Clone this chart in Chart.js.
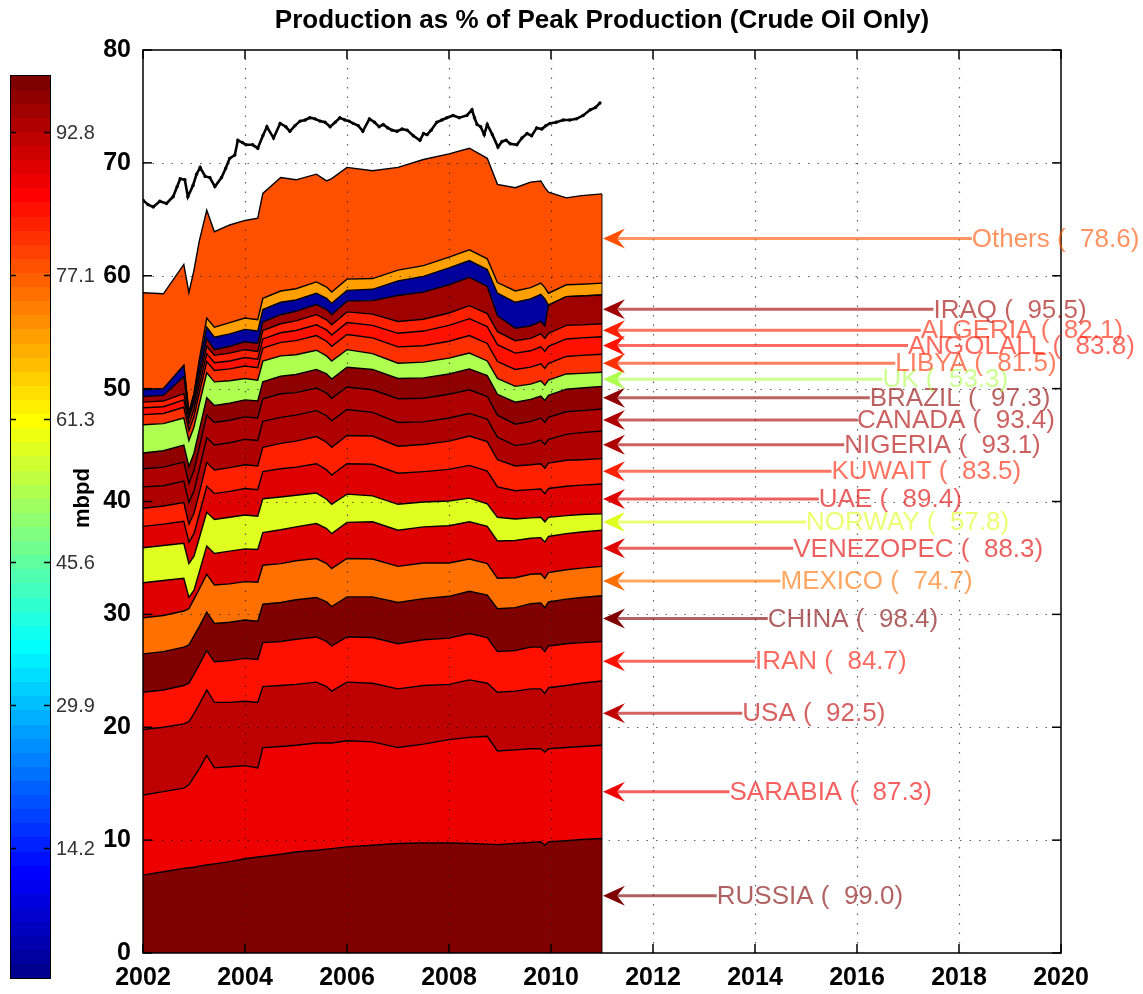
<!DOCTYPE html>
<html>
<head>
<meta charset="utf-8">
<script src="https://cdn.jsdelivr.net/npm/chart.js@4.4.1/dist/chart.umd.min.js"></script>
<style>
  html, body { margin: 0; padding: 0; background: #fff; }
  #wrap { width: 1143px; height: 994px; }
</style>
</head>
<body>
<div id="wrap"><canvas id="c" width="1143" height="994"></canvas></div>
<script>
// ---- sample dates (decimal years) shared by every stacked layer ----
const years = [2002.0, 2002.4, 2002.8, 2002.9, 2003.0, 2003.1, 2003.25, 2003.4, 2003.7, 2004.0,
  2004.25, 2004.35, 2004.7, 2005.0, 2005.4, 2005.6, 2005.7, 2006.0, 2006.5, 2007.0,
  2007.5, 2008.0, 2008.4, 2008.75, 2008.95, 2009.3, 2009.6, 2009.8, 2009.88, 2009.95,
  2010.3, 2010.6, 2011.0];

// ---- crude production per producer, mbpd (bottom of the stack first) ----
const russia      = [6.9, 7.2, 7.5, 7.55, 7.6, 7.7, 7.8, 7.9, 8.1, 8.35, 8.5, 8.55, 8.75, 8.95, 9.1, 9.2, 9.25, 9.4, 9.55, 9.7, 9.75, 9.75, 9.7, 9.65, 9.6, 9.7, 9.8, 9.85, 9.55, 9.85, 9.95, 10.05, 10.15];
const saudiArabia = [7.1, 7.1, 7.1, 7.35, 8.0, 8.6, 9.7, 8.5, 8.4, 8.25, 7.9, 9.65, 9.55, 9.45, 9.5, 9.4, 9.35, 9.4, 9.15, 8.5, 8.75, 9.15, 9.4, 9.55, 8.3, 8.3, 8.3, 8.25, 8.25, 8.25, 8.25, 8.25, 8.25];
const usa         = [5.8, 5.7, 5.7, 5.6, 5.6, 5.7, 5.8, 5.8, 5.7, 5.7, 5.8, 5.4, 5.4, 5.4, 5.4, 5.0, 4.6, 5.2, 5.2, 5.2, 5.2, 4.9, 5.1, 4.7, 5.2, 5.2, 5.3, 5.3, 5.2, 5.4, 5.5, 5.6, 5.7];
const iran        = [3.3, 3.3, 3.4, 3.4, 3.5, 3.5, 3.5, 3.6, 3.7, 3.8, 3.8, 3.9, 3.9, 4.0, 4.0, 4.0, 4.0, 4.0, 4.05, 4.0, 4.05, 4.1, 4.1, 4.05, 3.6, 3.6, 3.7, 3.7, 3.7, 3.7, 3.7, 3.6, 3.5];
const china       = [3.4, 3.4, 3.4, 3.4, 3.4, 3.4, 3.4, 3.4, 3.4, 3.4, 3.4, 3.4, 3.45, 3.5, 3.5, 3.5, 3.5, 3.55, 3.6, 3.65, 3.65, 3.7, 3.75, 3.75, 3.8, 3.8, 3.85, 3.9, 3.9, 3.9, 3.95, 4.0, 4.05];
const mexico      = [3.2, 3.2, 3.2, 3.2, 3.25, 3.3, 3.35, 3.4, 3.4, 3.4, 3.45, 3.45, 3.45, 3.45, 3.45, 3.4, 3.35, 3.4, 3.35, 3.2, 3.15, 2.95, 2.85, 2.8, 2.7, 2.65, 2.6, 2.6, 2.6, 2.6, 2.6, 2.6, 2.6];
const venezuela   = [3.1, 3.1, 2.9, 1.0, 0.8, 1.5, 2.5, 2.8, 2.9, 2.9, 2.9, 2.9, 3.0, 3.0, 3.1, 3.1, 3.1, 3.2, 3.3, 3.2, 3.2, 3.3, 3.3, 3.3, 3.3, 3.3, 3.2, 3.2, 3.2, 3.2, 3.2, 3.2, 3.2];
const norway      = [3.1, 3.1, 3.1, 3.0, 3.0, 3.0, 3.0, 3.0, 3.0, 3.0, 2.95, 3.0, 2.9, 2.8, 2.7, 2.6, 2.6, 2.5, 2.3, 2.3, 2.2, 2.2, 2.1, 2.0, 2.1, 1.9, 1.8, 1.8, 1.8, 1.7, 1.6, 1.55, 1.45];
const uae         = [1.9, 1.9, 1.95, 1.9, 2.0, 2.1, 2.3, 2.3, 2.3, 2.35, 2.35, 2.4, 2.5, 2.5, 2.6, 2.6, 2.6, 2.7, 2.8, 2.75, 2.7, 2.8, 2.9, 2.9, 2.7, 2.5, 2.5, 2.5, 2.5, 2.55, 2.6, 2.6, 2.65];
const kuwait      = [1.6, 1.6, 1.65, 1.6, 1.8, 1.9, 2.1, 2.1, 2.1, 2.1, 2.1, 2.15, 2.25, 2.3, 2.4, 2.45, 2.45, 2.5, 2.5, 2.4, 2.4, 2.5, 2.6, 2.6, 2.4, 2.2, 2.2, 2.25, 2.25, 2.25, 2.3, 2.25, 2.25];
const nigeria     = [1.9, 1.8, 1.9, 1.9, 2.0, 2.1, 2.2, 2.2, 2.2, 2.25, 2.25, 2.3, 2.3, 2.3, 2.3, 2.35, 2.35, 2.3, 2.1, 2.1, 2.0, 2.05, 2.0, 2.0, 2.0, 1.8, 1.9, 2.1, 2.1, 2.1, 2.3, 2.4, 2.45];
const canada      = [1.6, 1.65, 1.7, 1.7, 1.8, 1.9, 2.0, 2.0, 2.0, 2.0, 2.0, 2.0, 2.1, 2.0, 2.0, 2.0, 2.0, 2.0, 2.0, 2.1, 2.1, 2.1, 2.1, 2.0, 1.95, 1.9, 1.95, 1.95, 1.95, 1.95, 2.0, 1.95, 1.95];
const brazil      = [1.4, 1.45, 1.5, 1.5, 1.55, 1.55, 1.55, 1.5, 1.5, 1.5, 1.5, 1.5, 1.55, 1.6, 1.65, 1.7, 1.7, 1.75, 1.8, 1.8, 1.8, 1.8, 1.85, 1.85, 1.85, 1.95, 1.95, 1.95, 1.95, 1.95, 2.0, 2.0, 2.0];
const uk          = [2.5, 2.4, 2.4, 2.3, 2.3, 2.3, 2.2, 2.1, 2.0, 1.9, 1.85, 1.85, 1.8, 1.75, 1.7, 1.6, 1.6, 1.55, 1.4, 1.35, 1.4, 1.4, 1.4, 1.3, 1.4, 1.4, 1.35, 1.35, 1.35, 1.35, 1.35, 1.3, 1.25];
const libya       = [0.9, 0.9, 0.95, 0.9, 0.95, 1.0, 1.0, 1.0, 1.05, 1.1, 1.1, 1.15, 1.2, 1.25, 1.3, 1.3, 1.3, 1.35, 1.4, 1.45, 1.45, 1.5, 1.55, 1.55, 1.5, 1.5, 1.5, 1.5, 1.5, 1.5, 1.55, 1.6, 1.6];
const angola      = [0.6, 0.6, 0.65, 0.6, 0.65, 0.7, 0.7, 0.7, 0.7, 0.75, 0.75, 0.8, 0.85, 0.9, 0.95, 1.0, 1.0, 1.05, 1.1, 1.2, 1.3, 1.4, 1.5, 1.5, 1.5, 1.45, 1.45, 1.5, 1.5, 1.5, 1.55, 1.55, 1.55];
const algeria     = [0.5, 0.5, 0.55, 0.5, 0.55, 0.6, 0.65, 0.65, 0.7, 0.7, 0.7, 0.75, 0.8, 0.85, 0.9, 0.9, 0.9, 0.95, 1.0, 1.05, 1.05, 1.1, 1.15, 1.15, 1.15, 1.1, 1.1, 1.15, 1.15, 1.15, 1.2, 1.15, 1.15];
const iraq        = [0.5, 0.5, 1.5, 0.2, 0.3, 0.5, 0.7, 0.5, 0.6, 0.7, 0.7, 0.75, 0.8, 0.85, 0.9, 0.9, 0.9, 0.95, 1.2, 2.3, 2.4, 2.5, 2.5, 2.4, 1.4, 1.1, 1.1, 1.1, 1.1, 2.5, 2.55, 2.55, 2.55];
const extraA      = [0.6, 0.6, 1.0, 0.3, 0.5, 0.8, 1.0, 1.1, 1.1, 1.1, 1.1, 1.1, 1.1, 1.0, 1.0, 1.0, 1.0, 0.95, 1.0, 1.3, 1.4, 1.5, 1.5, 1.5, 2.0, 2.3, 2.4, 2.4, 2.4, 0, 0, 0, 0];
const extraB      = [0, 0, 0, 0, 0, 0.3, 0.8, 0.9, 1.0, 1.0, 1.0, 1.0, 1.0, 1.0, 1.0, 1.0, 1.0, 1.0, 0.95, 0.95, 0.95, 0.95, 0.95, 0.95, 0.95, 1.0, 1.0, 1.0, 1.0, 1.05, 1.05, 1.05, 1.05];
const others      = [8.6, 8.4, 8.95, 10.6, 10.95, 10.55, 9.55, 8.45, 8.65, 8.65, 9.0, 9.3, 10.05, 9.65, 9.55, 9.4, 10.05, 9.9, 9.55, 9.1, 9.4, 9.15, 9.0, 8.9, 8.7, 9.15, 9.35, 9.05, 8.85, 8.95, 7.7, 7.85, 7.9];

// layer order, names shown at the arrows, and latest production as % of peak
const layerValues = [russia, saudiArabia, usa, iran, china, mexico, venezuela, norway, uae, kuwait,
  nigeria, canada, brazil, uk, libya, angola, algeria, iraq, extraA, extraB, others];
const layerNames = ['RUSSIA', 'SARABIA', 'USA', 'IRAN', 'CHINA', 'MEXICO', 'VENEZOPEC', 'NORWAY', 'UAE', 'KUWAIT',
  'NIGERIA', 'CANADA', 'BRAZIL', 'UK', 'LIBYA', 'ANGOLALL', 'ALGERIA', 'IRAQ', '', '', 'Others'];
const pctOfPeak = [99.0, 87.3, 92.5, 84.7, 98.4, 74.7, 88.3, 57.8, 89.4, 83.5,
  93.1, 93.4, 97.3, 53.3, 81.5, 83.8, 82.1, 95.5, 2.0, 70.0, 78.6];

// ---- world total line ----
const totalYears = [2002.0, 2002.1, 2002.2, 2002.33, 2002.46, 2002.59, 2002.67, 2002.73, 2002.82, 2002.88,
  2002.98, 2003.05, 2003.12, 2003.22, 2003.31, 2003.41, 2003.54, 2003.62, 2003.7, 2003.8,
  2003.86, 2003.95, 2004.02, 2004.15, 2004.25, 2004.35, 2004.43, 2004.56, 2004.69, 2004.8,
  2004.88, 2004.98, 2005.08, 2005.18, 2005.27, 2005.37, 2005.47, 2005.57, 2005.67, 2005.77,
  2005.86, 2005.96, 2006.04, 2006.12, 2006.22, 2006.31, 2006.44, 2006.54, 2006.63, 2006.71,
  2006.8, 2006.88, 2006.98, 2007.08, 2007.18, 2007.3, 2007.43, 2007.5, 2007.57, 2007.65,
  2007.76, 2007.86, 2007.96, 2008.08, 2008.2, 2008.35, 2008.45, 2008.5, 2008.55, 2008.62,
  2008.69, 2008.75, 2008.85, 2008.96, 2009.04, 2009.12, 2009.2, 2009.33, 2009.43, 2009.53,
  2009.62, 2009.72, 2009.82, 2009.9, 2009.98, 2010.1, 2010.24, 2010.37, 2010.5, 2010.63,
  2010.77, 2010.87, 2010.96];
const totalValues = [66.7, 66.3, 66.1, 66.6, 66.4, 67.0, 67.9, 68.6, 68.5, 67.0,
  68.0, 69.0, 69.6, 68.8, 68.7, 67.9, 68.7, 69.5, 70.4, 70.7,
  72.0, 71.8, 71.6, 71.6, 71.3, 72.4, 73.2, 72.2, 73.5, 73.2,
  72.8, 73.3, 73.7, 73.8, 74.0, 73.9, 73.7, 73.6, 73.2, 73.6,
  74.0, 73.8, 73.7, 73.5, 73.3, 72.8, 73.9, 73.6, 73.2, 73.4,
  73.1, 72.9, 72.8, 73.0, 72.9, 72.4, 72.0, 72.6, 72.5, 72.9,
  73.6, 73.8, 74.0, 74.2, 74.0, 74.2, 74.7, 74.0, 73.4, 73.2,
  72.5, 73.4, 72.5, 71.4, 71.9, 72.0, 71.7, 71.6, 72.2, 72.6,
  72.4, 73.1, 73.0, 73.3, 73.5, 73.6, 73.8, 73.8, 73.9, 74.2,
  74.7, 74.9, 75.3];

// ---- axes and colour scale ----
const xTicks = [2002, 2004, 2006, 2008, 2010, 2012, 2014, 2016, 2018, 2020];
const yTicks = [0, 10, 20, 30, 40, 50, 60, 70, 80];
const colourLimits = [0, 99];
const colourbarTicks = [14.2, 29.9, 45.6, 61.3, 77.1, 92.8];
const titleText = 'Production as % of Peak Production (Crude Oil Only)';
const colourbarLabel = 'mbpd';

// MATLAB-style 64-step jet colormap
const jet = (() => {
  const n = 64, m = Math.ceil(n / 4);
  const u = [];
  for (let i = 1; i <= m; i++) u.push(i / m);
  for (let i = 0; i < m - 1; i++) u.push(1);
  for (let i = m; i >= 1; i--) u.push(i / m);
  const off = Math.ceil(m / 2) - (n % 4 === 1 ? 1 : 0);
  const J = Array.from({ length: n }, () => [0, 0, 0]);
  const g = [], r = [], b = [];
  for (let k = 1; k <= u.length; k++) { g.push(off + k); r.push(off + k + m); b.push(off + k - m); }
  const gK = g.filter(v => v <= n), rK = r.filter(v => v <= n), bK = b.filter(v => v >= 1);
  rK.forEach((row, i) => { J[row - 1][0] = u[i]; });
  gK.forEach((row, i) => { J[row - 1][1] = u[i]; });
  bK.forEach((row, i) => { J[row - 1][2] = u[u.length - bK.length + i]; });
  return J;
})();
function jetColour(v) {
  const idx = Math.max(0, Math.min(63, Math.floor((v - colourLimits[0]) / (colourLimits[1] - colourLimits[0]) * 64)));
  const c = jet[idx].map(t => Math.round(t * 255));
  return `rgb(${c[0]},${c[1]},${c[2]})`;
}

// label layout beside the plot
const labelStartYear = 2013.25;
const labelStep = 0.25;
const FONT = '"Liberation Sans", Arial, Helvetica, sans-serif';

const datasets = [{
  label: 'total',
  data: totalYears.map((t, i) => ({ x: t, y: totalValues[i] })),
  stack: 'total',
  borderColor: '#000',
  borderWidth: 2.6,
  pointRadius: 1.7,
  pointBackgroundColor: '#000',
  pointBorderWidth: 0,
  fill: false,
  tension: 0
}];
layerValues.forEach((vals, i) => {
  datasets.push({
    label: layerNames[i] || ('layer' + i),
    data: years.map((t, k) => ({ x: t, y: vals[k] })),
    stack: 'layers',
    borderColor: '#000',
    borderWidth: 1.4,
    pointRadius: 0,
    backgroundColor: jetColour(pctOfPeak[i]),
    fill: i === 0 ? 'origin' : '-1',
    tension: 0
  });
});

function line(ctx, x1, y1, x2, y2) { ctx.beginPath(); ctx.moveTo(x1, y1); ctx.lineTo(x2, y2); ctx.stroke(); }

const decor = {
  id: 'decor',
  beforeDraw(chart) {
    const c = chart.ctx; c.save(); c.fillStyle = '#fff'; c.fillRect(0, 0, chart.width, chart.height); c.restore();
  },
  afterDatasetsDraw(chart) {
    const { ctx, chartArea: a, scales: { x, y } } = chart;
    const last = years.length - 1;
    const endX = x.getPixelForValue(years[last]);
    let stackTop = 0;
    layerValues.forEach(v => { stackTop += v[last]; });

    // closing edge of the stacked block
    ctx.save();
    ctx.strokeStyle = 'rgba(0,0,0,0.75)'; ctx.lineWidth = 1.2;
    line(ctx, endX, y.getPixelForValue(0), endX, y.getPixelForValue(stackTop));
    ctx.restore();

    // dotted grid on top of the areas
    ctx.save();
    ctx.strokeStyle = 'rgba(30,30,30,0.7)'; ctx.lineWidth = 1.2; ctx.setLineDash([1.5, 8]);
    xTicks.forEach(v => { if (v > x.min && v < x.max) { const p = Math.round(x.getPixelForValue(v)) + 0.5; line(ctx, p, a.bottom, p, a.top); } });
    yTicks.forEach(v => { if (v > y.min && v < y.max) { const p = Math.round(y.getPixelForValue(v)) + 0.5; line(ctx, a.left, p, a.right, p); } });
    ctx.restore();

    // axes box with inward ticks on all sides
    ctx.save();
    ctx.strokeStyle = '#000'; ctx.lineWidth = 1.5;
    ctx.strokeRect(a.left, a.top, a.right - a.left, a.bottom - a.top);
    const tl = 9;
    xTicks.forEach(v => { const p = x.getPixelForValue(v); line(ctx, p, a.bottom, p, a.bottom - tl); line(ctx, p, a.top, p, a.top + tl); });
    yTicks.forEach(v => { const p = y.getPixelForValue(v); line(ctx, a.left, p, a.left + tl, p); line(ctx, a.right, p, a.right - tl, p); });
    ctx.restore();

    // arrows and labels naming each layer at its latest value
    ctx.save();
    let cum = 0;
    layerValues.forEach((vals, i) => {
      const v = vals[last];
      const mid = cum + v / 2;
      cum += v;
      if (!layerNames[i]) return;
      const yy = y.getPixelForValue(mid);
      const tipX = endX + 1;
      const labX = x.getPixelForValue(labelStartYear + labelStep * i);
      const col = jetColour(pctOfPeak[i]);
      ctx.globalAlpha = 0.62;
      ctx.strokeStyle = col; ctx.lineWidth = 3;
      line(ctx, tipX + 12, yy, labX, yy);
      ctx.fillStyle = col;
      ctx.font = `26px ${FONT}`;
      ctx.textBaseline = 'middle'; ctx.textAlign = 'left';
      ctx.fillText(`${layerNames[i]} ( ${pctOfPeak[i].toFixed(1).padStart(5, ' ')})`, labX, yy + 1);
      ctx.globalAlpha = 1;
      ctx.fillStyle = col;
      ctx.beginPath();
      ctx.moveTo(tipX, yy);
      ctx.lineTo(tipX + 22, yy - 10);
      ctx.lineTo(tipX + 14, yy);
      ctx.lineTo(tipX + 22, yy + 10);
      ctx.closePath();
      ctx.fill();
    });
    ctx.restore();
  },
  afterDraw(chart) {
    const { ctx, chartArea: a } = chart;
    ctx.save();
    // title
    ctx.fillStyle = '#000';
    ctx.font = `bold 26px ${FONT}`;
    ctx.textAlign = 'center'; ctx.textBaseline = 'middle';
    ctx.fillText(titleText, (a.left + a.right) / 2, 21);

    // colour bar
    const cb = { left: 10, right: 50, top: 75, bottom: 978 };
    const cbY = v => cb.bottom - (v - colourLimits[0]) / (colourLimits[1] - colourLimits[0]) * (cb.bottom - cb.top);
    for (let i = 0; i < 64; i++) {
      const c = jet[i].map(t => Math.round(t * 255));
      ctx.fillStyle = `rgb(${c[0]},${c[1]},${c[2]})`;
      const y0 = cb.bottom - i * (cb.bottom - cb.top) / 64;
      const y1 = cb.bottom - (i + 1) * (cb.bottom - cb.top) / 64;
      ctx.fillRect(cb.left, Math.floor(y1), cb.right - cb.left, Math.ceil(y0) - Math.floor(y1));
    }
    ctx.strokeStyle = '#000'; ctx.lineWidth = 1;
    ctx.strokeRect(cb.left + 0.5, cb.top + 0.5, cb.right - cb.left, cb.bottom - cb.top);
    ctx.font = `20px ${FONT}`;
    ctx.fillStyle = '#333'; ctx.textAlign = 'left'; ctx.textBaseline = 'middle';
    colourbarTicks.forEach(v => {
      const p = Math.round(cbY(v)) + 0.5;
      ctx.strokeStyle = '#000'; ctx.lineWidth = 1.5;
      line(ctx, cb.left, p, cb.left + 6, p);
      line(ctx, cb.right - 6, p, cb.right, p);
      ctx.fillText(v.toFixed(1), cb.right + 6, p + 1);
    });

    // colour bar caption
    ctx.translate(83, 498);
    ctx.rotate(-Math.PI / 2);
    ctx.font = `bold 22px ${FONT}`;
    ctx.fillStyle = '#000'; ctx.textAlign = 'center'; ctx.textBaseline = 'middle';
    ctx.fillText(colourbarLabel, 0, 0);
    ctx.restore();
  }
};

new Chart(document.getElementById('c'), {
  type: 'line',
  data: { datasets },
  options: {
    responsive: false,
    animation: false,
    devicePixelRatio: 1,
    events: [],
    layout: { padding: { left: 0, top: 50, right: 82, bottom: 0 } },
    plugins: { legend: { display: false }, tooltip: { enabled: false }, title: { display: false } },
    scales: {
      x: {
        type: 'linear', min: 2002, max: 2020,
        afterFit(scale) { scale.height = 41; },
        afterBuildTicks(scale) { scale.ticks = xTicks.map(v => ({ value: v })); },
        grid: { display: false, drawTicks: false }, border: { display: false },
        ticks: { padding: 10, maxRotation: 0, autoSkip: false, color: '#000', font: { family: FONT, size: 25, weight: 'bold' }, callback: v => String(v) }
      },
      y: {
        type: 'linear', min: 0, max: 80, stacked: true,
        afterFit(scale) { scale.width = 143; },
        afterBuildTicks(scale) { scale.ticks = yTicks.map(v => ({ value: v })); },
        grid: { display: false, drawTicks: false }, border: { display: false },
        ticks: { padding: 12, color: '#000', font: { family: FONT, size: 25, weight: 'bold' }, callback: v => String(v) }
      }
    }
  },
  plugins: [decor]
});
</script>
</body>
</html>
